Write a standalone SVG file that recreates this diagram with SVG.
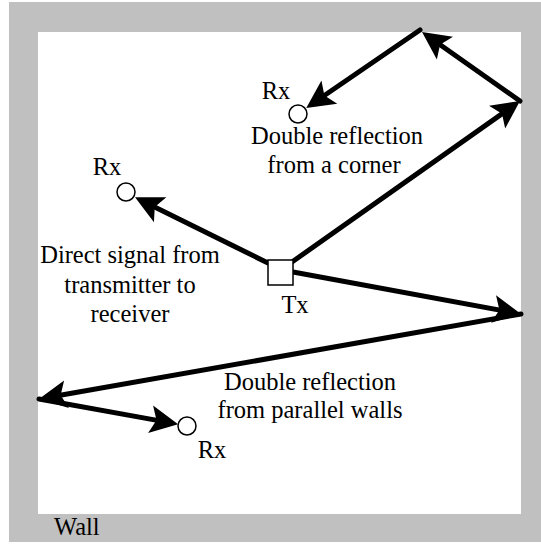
<svg xmlns="http://www.w3.org/2000/svg" width="541" height="544" viewBox="0 0 541 544">
  <style>
    text { font-family: "Liberation Serif", "Times New Roman", serif; font-size: 24.5px; fill: #000; }
    .lbl { text-anchor: middle; }
    .ray { stroke: #000; stroke-width: 5; fill: none; stroke-linecap: round; marker-end: url(#head); }
    .rx { fill: #fff; stroke: #000; stroke-width: 1.5; }
  </style>
  <defs>
    <!-- barbed arrowhead; tip sits 10 units past the line end -->
    <marker id="head" markerUnits="userSpaceOnUse" markerWidth="44" markerHeight="34" viewBox="0 -17 44 34" refX="30" refY="0" orient="auto">
      <path d="M40,0 L12,-14 L18,0 L12,14 Z" fill="#000"/>
    </marker>
  </defs>

  <!-- room walls -->
  <g id="walls">
    <rect x="9" y="2" width="532" height="540" fill="#c0c0c0"/>
    <rect x="38" y="32" width="483" height="482" fill="#fff"/>
    <text x="54" y="535">Wall</text>
  </g>

  <!-- signal paths -->
  <g id="connectors">
    <line class="ray" x1="292" y1="262" x2="511.8" y2="106.8"/>
    <line class="ray" x1="520" y1="101" x2="430.2" y2="37.8"/>
    <line class="ray" x1="420" y1="30" x2="314.5" y2="102.3"/>
    <line class="ray" x1="268" y1="263" x2="144" y2="201.8"/>
    <line class="ray" x1="293" y1="272" x2="511.2" y2="312.2"/>
    <line class="ray" x1="521" y1="314" x2="48.8" y2="397.3"/>
    <line class="ray" x1="39" y1="399" x2="168.3" y2="422.4"/>
  </g>

  <g id="tx">
    <rect x="268" y="260" width="25" height="25" fill="#fff" stroke="#000" stroke-width="1.5"/>
    <text class="lbl" x="295" y="313">Tx</text>
  </g>

  <g id="rx-corner">
    <circle class="rx" cx="298" cy="114" r="9"/>
    <text class="lbl" x="276" y="99">Rx</text>
  </g>

  <g id="rx-direct">
    <circle class="rx" cx="126" cy="192" r="9"/>
    <text class="lbl" x="107" y="175">Rx</text>
  </g>

  <g id="rx-parallel">
    <circle class="rx" cx="187" cy="426" r="9"/>
    <text class="lbl" x="212" y="458">Rx</text>
  </g>

  <g id="labels">
    <text class="lbl" x="337" y="144">Double reflection</text>
    <text class="lbl" x="334" y="173">from a corner</text>
    <text class="lbl" x="130" y="263">Direct signal from</text>
    <text class="lbl" x="130" y="293">transmitter to</text>
    <text class="lbl" x="130" y="322">receiver</text>
    <text class="lbl" x="310" y="390">Double reflection</text>
    <text class="lbl" x="310" y="418">from parallel walls</text>
  </g>
</svg>
